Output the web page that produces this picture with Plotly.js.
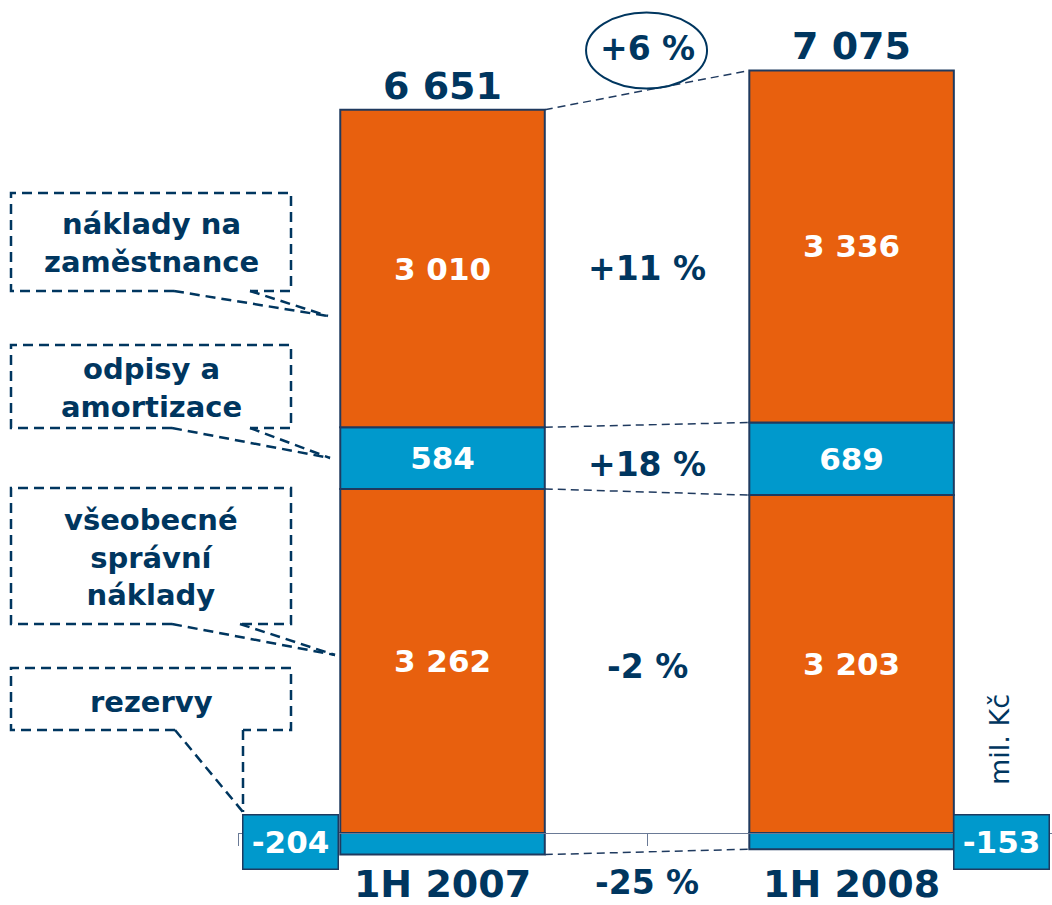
<!DOCTYPE html>
<html>
<head>
<meta charset="utf-8">
<script src="https://cdn.plot.ly/plotly-3.0.1.min.js"></script>
<style>html,body{margin:0;padding:0;background:#fff;}#chart{width:1052px;height:905px;}</style>
</head>
<body>
<div id="chart"></div>
<script>
// ---- data ----
const categories = ['1H 2007', '1H 2008'];
const rezervy = [-204, -153];          // provisions (negative)
const spravni = [3262, 3203];          // general administrative costs
const odpisy = [584, 689];             // depreciation & amortisation
const zamestnanci = [3010, 3336];      // staff costs
const totals = [6651, 7075];
const changeLabels = ['-25 %', '-2 %', '+18 %', '+11 %'];
const totalChange = '+6 %';
const calloutLabels = ['náklady na<br>zaměstnance', 'odpisy a<br>amortizace', 'všeobecné<br>správní<br>náklady', 'rezervy'];
const unitLabel = 'mil. Kč';

// ---- styles ----
const FONT = 'DejaVu Sans';
const NAVY = '#00365F';
const ORANGE = '#E8600E';
const BLUE = '#0099CC';
const EDGE = '#1F3A5F';
const W = 1052, H = 905, L = 238;
const yRange = [-682, 7896];
const fmt = n => String(n).replace(/\B(?=(\d{3})+(?!\d))/g, ' ');
const px = x => (x - L) / (W - L);
const py = y => 1 - y / H;

function barTrace(name, vals, color, showText) {
  return {
    type: 'bar', name: name, x: categories, y: vals, width: 0.5,
    marker: {color: color, line: {color: EDGE, width: 2}},
    text: showText ? vals.map(fmt) : null,
    textposition: showText ? 'inside' : 'none',
    insidetextanchor: 'middle', constraintext: 'none',
    textfont: {family: FONT, size: 31, color: '#fff', weight: 'bold'},
    hoverinfo: 'skip'
  };
}
const traces = [
  barTrace('rezervy', rezervy, BLUE, false),
  barTrace('všeobecné správní náklady', spravni, ORANGE, true),
  barTrace('odpisy a amortizace', odpisy, BLUE, true),
  barTrace('náklady na zaměstnance', zamestnanci, ORANGE, true)
];

// cumulative boundaries
const b0 = rezervy;
const b2 = spravni.map((v, i) => v + odpisy[i]);
const b3 = b2.map((v, i) => v + zamestnanci[i]);
const mids = [rezervy, spravni.map(v => v / 2), b2.map((v, i) => spravni[i] + odpisy[i] / 2), b3.map((v, i) => b2[i] + zamestnanci[i] / 2)];

const shapes = [];
[b0, spravni, b2, b3].forEach(b => {
  shapes.push({type: 'line', xref: 'x', yref: 'y', x0: 0.25, x1: 0.75, y0: b[0], y1: b[1],
    line: {color: EDGE, width: 1.5, dash: '8px,5px'}});
});
// ellipse round the total change
shapes.push({type: 'circle', xref: 'x', yref: 'y', xsizemode: 'pixel', ysizemode: 'pixel',
  xanchor: 0.5, yanchor: Math.max(...b3), x0: -61, x1: 60, y0: -18, y1: 58,
  line: {color: NAVY, width: 2}});

// callout boxes (decoration, pixel geometry)
function callout(x0, y0, x1, y1, g0, g1, tx, ty, vertical) {
  const path = `M${px(g0)},${py(y1)} L${px(x0)},${py(y1)} L${px(x0)},${py(y0)} L${px(x1)},${py(y0)} L${px(x1)},${py(y1)} L${px(g1)},${py(y1)}`;
  const ln = {color: NAVY, width: 2.5, dash: '10px,6px'};
  shapes.push({type: 'path', xref: 'paper', yref: 'paper', path: path, line: ln});
  shapes.push({type: 'line', xref: 'paper', yref: 'paper', x0: px(g0), y0: py(y1), x1: px(tx), y1: py(ty), line: ln});
  shapes.push({type: 'line', xref: 'paper', yref: 'paper', x0: px(g1), y0: py(y1), x1: px(vertical ? g1 : tx), y1: py(ty), line: ln});
}
const boxes = [
  [11, 193, 291, 291, 174, 250, 328, 316, false],
  [11, 345, 291, 428, 172, 250, 330, 458, false],
  [11, 488, 291, 624, 172, 240, 335, 655, false],
  [11, 668, 291, 730, 175, 243, 243, 812, true]
];
boxes.forEach(b => callout(...b));

const annotations = [];
// totals above bars
categories.forEach((c, i) => annotations.push({
  x: i, y: b3[i], xref: 'x', yref: 'y', yanchor: 'bottom', showarrow: false, yshift: 0,
  text: fmt(totals[i]), font: {family: FONT, size: 38, color: NAVY, weight: 'bold'}
}));
annotations.push({x: 0.5, y: Math.max(...b3), xref: 'x', yref: 'y', yanchor: 'bottom', showarrow: false, yshift: 0,
  text: totalChange, font: {family: FONT, size: 33, color: NAVY, weight: 'bold'}});
// segment change labels
const changeShift = [-6, -6, -6, 0];
changeLabels.forEach((t, k) => {
  const isNeg = k === 0;
  annotations.push({x: 0.5, y: mids[k][0], xref: 'x', yref: 'y',
    yanchor: isNeg ? 'top' : 'middle', yshift: changeShift[k], showarrow: false,
    text: t, font: {family: FONT, size: 33, color: NAVY, weight: 'bold'}});
});
// negative value boxes
categories.forEach((c, i) => annotations.push({
  x: i === 0 ? -0.25 : 1.25, y: rezervy[i] / 2, xref: 'x', yref: 'y',
  xanchor: i === 0 ? 'right' : 'left', yanchor: 'middle', xshift: -1, yshift: i === 0 ? 2 : -1,
  showarrow: false, text: fmt(rezervy[i]),
  bgcolor: BLUE, bordercolor: EDGE, borderwidth: 1.5, borderpad: 0, width: 94, height: 53,
  font: {family: FONT, size: 31, color: '#fff', weight: 'bold'}
}));
// callout texts
const calloutCenters = [[151, 243], [151, 388], [151, 557], [151, 702]];
calloutLabels.forEach((t, k) => annotations.push({
  xref: 'paper', yref: 'paper', x: px(calloutCenters[k][0]), y: py(calloutCenters[k][1]),
  xanchor: 'center', yanchor: 'middle', showarrow: false, text: t,
  font: {family: FONT, size: 29, color: NAVY, weight: 'bold'}
}));
// unit label
annotations.push({xref: 'paper', yref: 'paper', x: px(999), y: py(740), xanchor: 'center', yanchor: 'middle',
  showarrow: false, textangle: -90,
  text: unitLabel, font: {family: FONT, size: 27, color: NAVY}});

const layout = {
  width: W, height: H,
  margin: {l: L, r: 0, t: 0, b: 0, pad: 0},
  paper_bgcolor: '#fff', plot_bgcolor: 'rgba(0,0,0,0)',
  barmode: 'relative', showlegend: false,
  separators: ', ',
  xaxis: {type: 'category', range: [-0.5, 1.49], anchor: 'free',
    position: (0 - yRange[0]) / (yRange[1] - yRange[0]),
    showline: true, linecolor: '#6A7A96', linewidth: 1,
    ticks: 'outside', tickson: 'boundaries', ticklen: 12, tickcolor: '#6A7A96', tickwidth: 1,
    ticklabelstandoff: 17,
    showgrid: false, automargin: false,
    tickfont: {family: FONT, size: 38, color: NAVY, weight: 'bold'}},
  yaxis: {range: yRange, visible: false, showgrid: false, zeroline: false, fixedrange: true},
  shapes: shapes, annotations: annotations
};
Plotly.newPlot('chart', traces, layout, {staticPlot: true, displayModeBar: false});
</script>
</body>
</html>
